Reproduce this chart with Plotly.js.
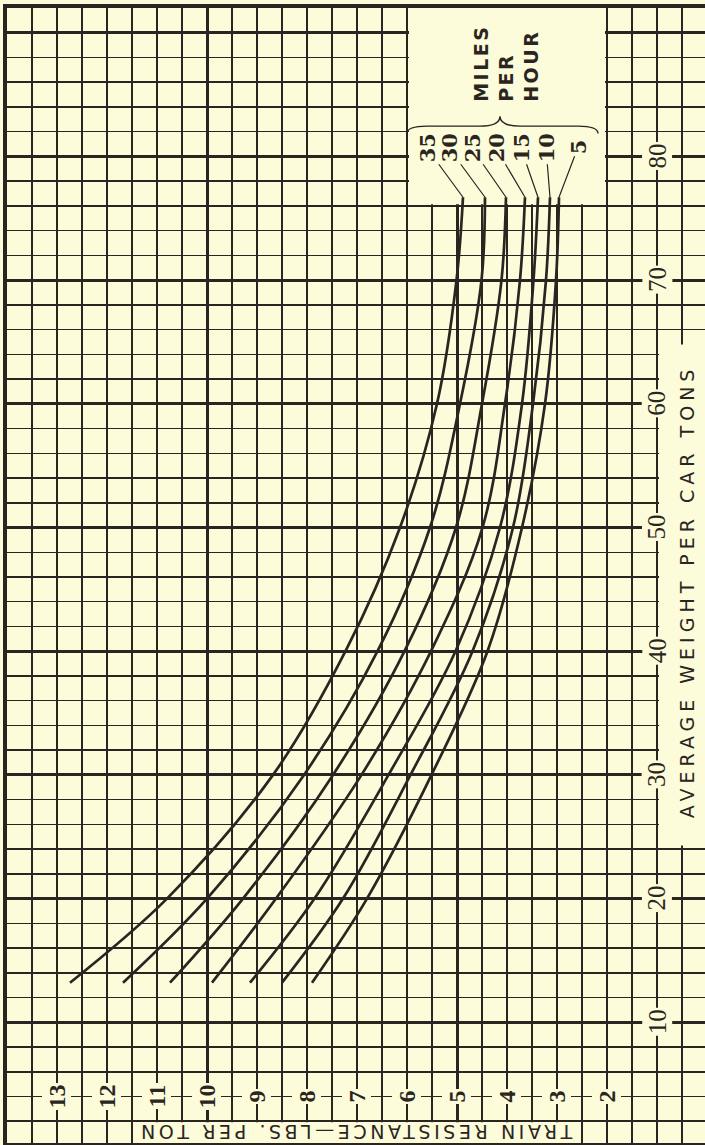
<!DOCTYPE html>
<html>
<head>
<meta charset="utf-8">
<script src="https://cdn.plot.ly/plotly-3.0.1.min.js"></script>
<style>
html, body { margin: 0; padding: 0; background: #fcfbda; }
#chart { width: 705px; height: 1145px; }
.annotation[data-index="0"] text { letter-spacing: 3.6px; }
.annotation[data-index="1"] text { letter-spacing: 5.0px; }
.annotation[data-index="2"] text { letter-spacing: 2.5px; }
</style>
</head>
<body>
<div id="chart"></div>
<script>
// ---- data ----
const weightTons = [13.2, 20, 30, 40, 50, 60, 70, 76.7];
const mph35 = [12.74, 10.80, 8.68, 7.23, 6.14, 5.40, 5.01, 4.88];
const mph30 = [11.68, 10.00, 8.06, 6.59, 5.54, 4.94, 4.51, 4.44];
const mph25 = [10.74, 9.28, 7.48, 6.05, 5.02, 4.50, 4.11, 4.02];
const mph20 = [9.90, 8.62, 6.91, 5.52, 4.49, 4.04, 3.74, 3.64];
const mph15 = [9.14, 7.85, 6.37, 5.03, 4.14, 3.70, 3.47, 3.38];
const mph10 = [8.50, 7.28, 5.93, 4.69, 3.88, 3.48, 3.22, 3.14];
const mph5  = [7.90, 6.80, 5.51, 4.39, 3.70, 3.24, 3.02, 2.96];
const speedLabels = ['35', '30', '25', '20', '15', '10', '5'];
const resistanceTicks = [13, 12, 11, 10, 9, 8, 7, 6, 5, 4, 3, 2];
const weightTicks = [10, 20, 30, 40, 50, 60, 70, 80];
const xTitle = 'TRAIN RESISTANCE—LBS. PER TON';
const yTitle = 'AVERAGE WEIGHT PER CAR TONS';
const legendTitle = 'MILES<br>PER<br>HOUR';

// ---- styling ----
const INK = '#2a2521';
const BG = '#fcfbda';
const series = [mph35, mph30, mph25, mph20, mph15, mph10, mph5];
const labelOffsets = [[-36, -49], [-36, -49], [-34, -49], [-29, -49], [-17, -49], [-4, -49], [19, -50]];

// grid line positions (paper ruling: 0.5 lb and 2 tons, heavier every 5 lb / 10 tons)
const xMinor = [], yMinor = [], xMajor = [], yMajor = [];
for (let k = 0; k <= 28; k++) xMinor.push(k / 2);
for (let k = 0; k <= 2; k++) xMajor.push(k * 5);
for (let k = 0; k <= 46; k++) yMinor.push(k * 2);
for (let k = 0; k <= 9; k++) yMajor.push(k * 10);

const traces = series.map((s, i) => ({
  x: s,
  y: weightTons,
  type: 'scatter',
  mode: 'lines',
  name: speedLabels[i] + ' mph',
  line: { color: INK, width: 2.7, shape: 'spline', smoothing: 1 },
  hoverinfo: 'skip'
}));

const annotations = [];
annotations.push({
  x: 7.03, y: 1.07, xref: 'x', yref: 'y', text: xTitle, showarrow: false,
  textangle: 180, font: { family: 'DejaVu Sans', size: 19, color: INK }
});
annotations.push({
  x: 0.40, y: 44.8, xref: 'x', yref: 'y', text: yTitle, showarrow: false,
  textangle: -90, font: { family: 'DejaVu Sans', size: 19, color: INK }
});
annotations.push({
  x: 4.02, y: 87.0, xref: 'x', yref: 'y', text: legendTitle, showarrow: false,
  textangle: -90, align: 'left', font: { family: 'DejaVu Sans', size: 19, color: INK, weight: 'bold' }
});
resistanceTicks.forEach(v => annotations.push({
  x: v, y: 4, xref: 'x', yref: 'y', text: String(v), showarrow: false,
  textangle: -90, bgcolor: BG, borderpad: 1,
  font: { family: 'Liberation Serif', size: 24, color: INK, weight: 'bold' }
}));
weightTicks.forEach(v => annotations.push({
  x: 1, y: v, xref: 'x', yref: 'y', text: String(v), showarrow: false,
  textangle: -90, bgcolor: BG, borderpad: 1,
  font: { family: 'Liberation Serif', size: 25, color: INK }
}));
series.forEach((s, i) => annotations.push({
  x: s[s.length - 1], y: weightTons[weightTons.length - 1], xref: 'x', yref: 'y',
  text: speedLabels[i], showarrow: true, arrowhead: 0, arrowwidth: 1.2, arrowcolor: INK,
  ax: labelOffsets[i][0], ay: labelOffsets[i][1], standoff: 0,
  textangle: -90, font: { family: 'DejaVu Serif', size: 21, color: INK, weight: 'bold' }
}));

const shapes = [
  { type: 'rect', layer: 'between', xref: 'x', yref: 'y', x0: 11.45, x1: 2.62, y0: 0.1, y1: 1.92,
    fillcolor: BG, line: { width: 0 } },
  { type: 'rect', layer: 'between', xref: 'x', yref: 'y', x0: 0.96, x1: -0.1, y0: 24.3, y1: 64.8,
    fillcolor: BG, line: { width: 0 } },
  { type: 'rect', layer: 'between', xref: 'x', yref: 'y', x0: 5.96, x1: 2.04, y0: 76.14, y1: 93,
    fillcolor: BG, line: { width: 0 } },
  { type: 'path', layer: 'above', xref: 'x', yref: 'y',
    path: 'M 6.0,81.85 Q 6.0,82.45 5.6,82.45 L 4.55,82.45 Q 4.14,82.45 4.14,83.25 Q 4.14,82.45 3.73,82.45 L 2.58,82.45 Q 2.18,82.45 2.18,81.85',
    line: { color: INK, width: 1.4 } }
];

const axisCommon = {
  showgrid: true, gridcolor: INK, gridwidth: 3,
  showticklabels: false, ticks: '', zeroline: false,
  showline: true, mirror: true, linecolor: INK, linewidth: 4,
  fixedrange: true, tickmode: 'array'
};

const layout = {
  width: 705, height: 1145,
  margin: { l: 7, r: 0, t: 8, b: 2 },
  paper_bgcolor: BG, plot_bgcolor: BG,
  showlegend: false,
  xaxis: Object.assign({}, axisCommon, {
    range: [14, 0.04], tickvals: xMajor,
    minor: { tickmode: 'array', tickvals: xMinor, showgrid: true, gridcolor: INK, gridwidth: 1.5, ticks: '' }
  }),
  yaxis: Object.assign({}, axisCommon, {
    range: [0.24, 92], tickvals: yMajor,
    minor: { tickmode: 'array', tickvals: yMinor, showgrid: true, gridcolor: INK, gridwidth: 1.5, ticks: '' }
  }),
  annotations: annotations,
  shapes: shapes
};

Plotly.newPlot('chart', traces, layout, { displayModeBar: false, staticPlot: true });
</script>
</body>
</html>
